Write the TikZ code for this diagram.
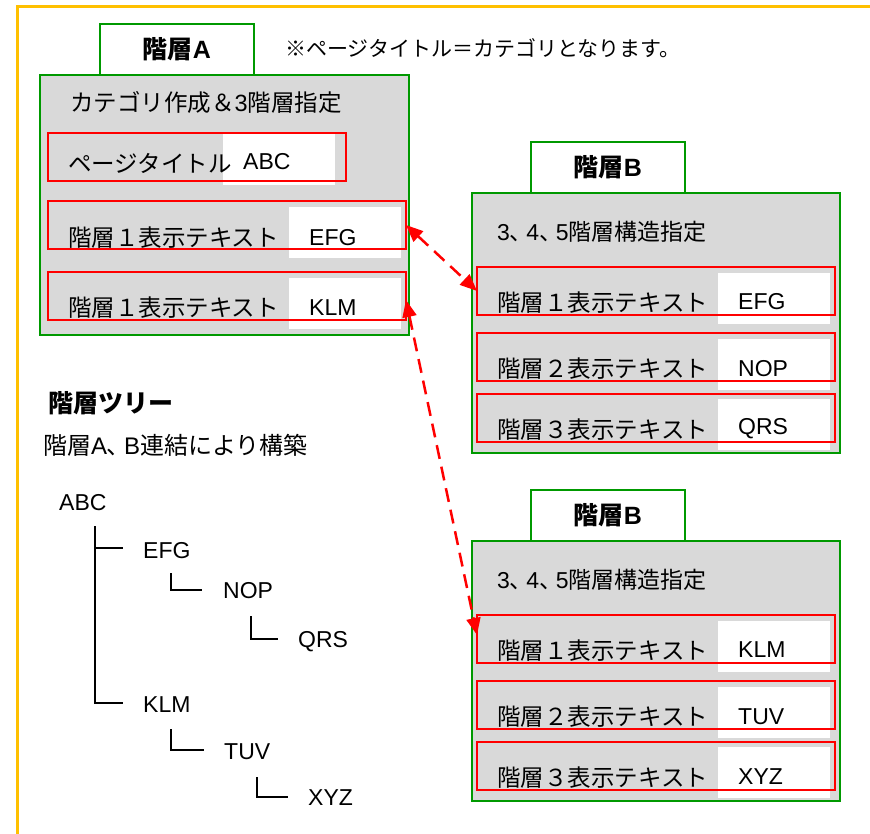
\documentclass[tikz,border=0pt]{standalone}
\usepackage{fontspec}
\setmainfont{Liberation Sans}
\newfontfamily\jp{Noto Sans CJK JP}
\newfontfamily\jpp{Noto Sans CJK JP}[RawFeature=+palt]
\usetikzlibrary{arrows.meta}
\definecolor{frameyellow}{HTML}{FFC000}
\definecolor{boxgreen}{HTML}{009900}
\definecolor{boxgray}{HTML}{D9D9D9}
\definecolor{rowred}{HTML}{FF0000}
\newcommand\fsz[1]{\fontsize{#1}{#1}\selectfont}
\newcommand\tou{{\jpp 、}\hspace{5pt}}
\begin{document}
\begin{tikzpicture}[x=1pt,y=-1pt,
  mainbox/.style={draw=boxgreen, fill=boxgray, line width=2.5, anchor=north west, inner sep=0, outer sep=0},
  tabbox/.style={draw=boxgreen, fill=white, line width=2.5, anchor=north west, inner sep=0, outer sep=0},
  rowbox/.style={draw=rowred, line width=2.5, anchor=north west, inner sep=0, outer sep=0, minimum width=358, minimum height=48},
  valbox/.style={fill=white, anchor=north west, inner sep=0, outer sep=0, minimum width=112, minimum height=51},
  txt/.style={anchor=west, inner sep=0, font=\fsz{23}},
  jtxt/.style={anchor=west, inner sep=0, font=\jp\fsz{23.5}},
  tablabel/.style={inner sep=0, font=\bfseries\fsz{25}},
  treeline/.style={draw=black, line width=2},
  dasharrow/.style={draw=rowred, line width=2.5, dash pattern=on 14pt off 8pt, {Triangle[length=17pt,width=14pt]}-{Triangle[length=17pt,width=14pt]}}
]
\useasboundingbox (0,0) rectangle (870,834);
\fill[white] (0,0) rectangle (870,834);
% outer frame
\draw[frameyellow, line width=3] (17,834) -- (17,7) -- (870,7);

% ---------- box A ----------
\node[tabbox, minimum width=154, minimum height=51] (Atab) at (100,24) {};
\node[tablabel] at (Atab.center) {{\jp\bfseries 階層}A};
\node[mainbox, minimum width=369, minimum height=260] (A) at (40,75) {};
\node[jtxt] (Atitle) at (70,102) {カテゴリ作成＆{\fontspec{Liberation Sans}3}階層指定};
\node[valbox] (av1) at (223,134) {};
\node[valbox] (av2) at (289,207) {};
\node[valbox] (av3) at (289,278) {};
\node[jtxt] (al1) at (68,163) {ページタイトル};
\node[jtxt] (al2) at (68,238) {階層１表示テキスト};
\node[jtxt] (al3) at (68,308) {階層１表示テキスト};
\node[txt] (ax1) at (243,162) {ABC};
\node[txt] (ax2) at (309,238) {EFG};
\node[txt] (ax3) at (309,308) {KLM};
\node[rowbox, minimum width=298] (a1) at (48,133) {};
\node[rowbox] (a2) at (48,201) {};
\node[rowbox] (a3) at (48,272) {};

% note
\node[anchor=west, inner sep=0, font=\jp\fsz{21}] (note) at (285,48) {※ページタイトル＝カテゴリとなります。};

% ---------- boxes B ----------
\foreach \n/\oy/\p/\q/\r in {b/0/EFG/NOP/QRS, c/348/KLM/TUV/XYZ}{
  \node[tabbox, minimum width=154, minimum height=51] (\n tab) at (531,142+\oy) {};
  \node[tablabel] at (\n tab.center) {{\jp\bfseries 階層}B};
  \node[mainbox, minimum width=368, minimum height=260] (\n box) at (472,193+\oy) {};
  \node[txt] (\n title) at (497,232+\oy) {3\tou 4\tou 5{\jp 階層構造指定}};
  \node[valbox] (\n v1) at (718,273+\oy) {};
  \node[valbox] (\n v2) at (718,339+\oy) {};
  \node[valbox] (\n v3) at (718,399+\oy) {};
  \node[jtxt] (\n l1) at (497,303+\oy) {階層１表示テキスト};
  \node[jtxt] (\n l2) at (497,369+\oy) {階層２表示テキスト};
  \node[jtxt] (\n l3) at (497,430+\oy) {階層３表示テキスト};
  \node[txt] (\n x1) at (738,302+\oy) {\p};
  \node[txt] (\n x2) at (738,369+\oy) {\q};
  \node[txt] (\n x3) at (738,429+\oy) {\r};
  \node[rowbox] (\n r1) at (477,267+\oy) {};
  \node[rowbox] (\n r2) at (477,333+\oy) {};
  \node[rowbox] (\n r3) at (477,394+\oy) {};
}

% arrows
\draw[dasharrow] (a2.east) -- (br1.west);
\draw[dasharrow] ([yshift=-4pt]a3.east) -- ([yshift=4pt]cr1.west);

% ---------- tree ----------
\node[anchor=west, inner sep=0, font=\jp\bfseries\fsz{25}] (treetitle) at (48,403) {階層ツリー};
\node[anchor=west, inner sep=0, font=\fsz{24}] (treesub) at (43,445) {{\jp 階層}A\tou B{\jp 連結により構築}};
\node[txt] (tabc) at (59,503) {ABC};
\node[txt] (tefg) at (143,551) {EFG};
\node[txt] (tnop) at (223,591) {NOP};
\node[txt] (tqrs) at (298,642) {QRS};
\node[txt] (tklm) at (143,705) {KLM};
\node[txt] (ttuv) at (224,752) {TUV};
\node[txt] (txyz) at (308,798) {XYZ};
\coordinate (r0) at (95,526);
\coordinate (r1) at (171,573);
\coordinate (r2) at (251,616);
\coordinate (r3) at (171,729);
\coordinate (r4) at (257,777);
\draw[treeline] (r0) |- ([xshift=-20pt,yshift=2pt]tklm.west);
\draw[treeline] ([yshift=-22pt]r0) -- ([xshift=-20pt,yshift=3pt]tefg.west);
\draw[treeline] (r1) |- ([xshift=-21pt,yshift=1pt]tnop.west);
\draw[treeline] (r2) |- ([xshift=-20pt,yshift=3pt]tqrs.west);
\draw[treeline] (r3) |- ([xshift=-20pt,yshift=2pt]ttuv.west);
\draw[treeline] (r4) |- ([xshift=-20pt,yshift=1pt]txyz.west);
\end{tikzpicture}
\end{document}
